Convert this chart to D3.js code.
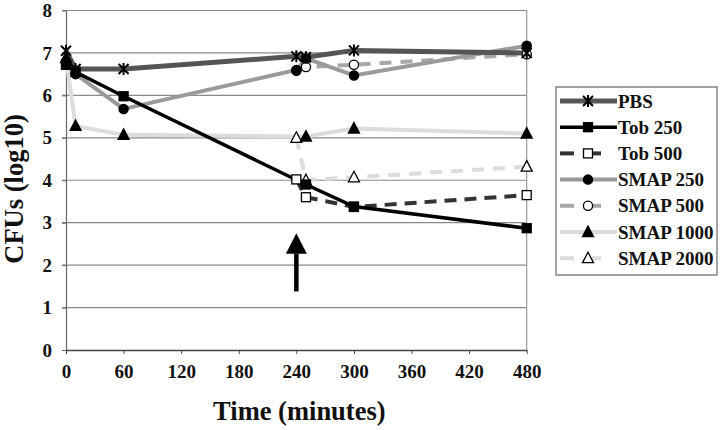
<!DOCTYPE html>
<html><head><meta charset="utf-8">
<script src="https://cdn.jsdelivr.net/npm/d3@7"></script>
<style>body{margin:0;background:#fff}svg{display:block}text{font-family:"Liberation Serif","Times New Roman",serif;font-weight:bold}</style>
</head><body><svg id="c" width="724" height="430"></svg>
<script>
const xTicks=[0,60,120,180,240,300,360,420,480];
const yTicks=[0,1,2,3,4,5,6,7,8];
const seriesNames=["PBS","Tob 250","Tob 500","SMAP 250","SMAP 500","SMAP 1000","SMAP 2000"];
const pbsT=[0,10,60,240,250,300,480];
const pbsV=[7.05,6.62,6.62,6.92,6.9,7.06,7.0];
const tob250T=[0,10,60,250,300,480];
const tob250V=[6.72,6.55,5.98,3.9,3.38,2.87];
const tob500T=[240,250,300,480];
const tob500V=[4.02,3.6,3.37,3.65];
const smap250T=[0,10,60,240,250,300,480];
const smap250V=[6.8,6.5,5.68,6.6,6.87,6.47,7.17];
const smap500T=[240,250,300,480];
const smap500V=[6.58,6.67,6.72,6.97];
const smap1000T=[0,10,60,250,300,480];
const smap1000V=[6.88,5.28,5.07,5.03,5.22,5.1];
const smap2000T=[240,250,300,480];
const smap2000V=[5.0,4.0,4.07,4.32];
const arrowT=240, arrowTip=2.75, arrowBase=2.27, arrowBottom=1.38;

const svg=d3.select("#c");
const x=d3.scaleLinear().domain([0,480]).range([66,526.7]);
const y=d3.scaleLinear().domain([0,8]).range([350,10.5]);

svg.append("g").selectAll("line").data(yTicks.filter(d=>d>0)).join("line")
 .attr("x1",62).attr("x2",x(480)).attr("y1",d=>y(d)).attr("y2",d=>y(d))
 .attr("stroke","#8a8a8a").attr("stroke-width",1.2);
svg.append("line").attr("x1",x(480)).attr("x2",x(480)).attr("y1",y(8)).attr("y2",y(0)).attr("stroke","#9a9a9a").attr("stroke-width",1.2);

const xa=svg.append("g").attr("transform",`translate(0,${y(0)})`)
 .call(d3.axisBottom(x).tickValues(xTicks).tickSize(4).tickSizeOuter(0));
xa.select(".domain").attr("stroke","#444").attr("stroke-width",1.5);
xa.selectAll(".tick line").attr("stroke","#444");
xa.selectAll("text").attr("font-size",19).attr("fill","#111").attr("dy","1.1em");
const ya=svg.append("g").attr("transform",`translate(${x(0)},0)`)
 .call(d3.axisLeft(y).tickValues(yTicks).tickSize(4).tickSizeOuter(0));
ya.select(".domain").attr("stroke","#666").attr("stroke-width",1.2);
ya.selectAll(".tick line").attr("stroke","#666");
ya.selectAll("text").attr("font-size",19).attr("fill","#111").attr("x",-14);

const styles={
 "PBS":{c:"#555",w:5,dash:null,m:"star"},
 "Tob 250":{c:"#000",w:3.5,dash:null,m:"fsq"},
 "Tob 500":{c:"#333",w:4,dash:"12,8",m:"osq"},
 "SMAP 250":{c:"#9a9a9a",w:4,dash:null,m:"fci"},
 "SMAP 500":{c:"#a8a8a8",w:4,dash:"12,9",m:"oci"},
 "SMAP 1000":{c:"#dcdcdc",w:4,dash:null,m:"ftr"},
 "SMAP 2000":{c:"#dcdcdc",w:4,dash:"12,9",m:"otr"}
};
const data=[[pbsT,pbsV],[tob250T,tob250V],[tob500T,tob500V],[smap250T,smap250V],[smap500T,smap500V],[smap1000T,smap1000V],[smap2000T,smap2000V]];
const series=seriesNames.map((n,i)=>({name:n,pts:data[i][0].map((t,j)=>({t,v:data[i][1][j]}))}));
const line=d3.line().x(d=>x(d.t)).y(d=>y(d.v));

function marker(g,type,cx,cy){
 if(type==="star"){g.append("path").attr("d",`M${cx-5},${cy-5}L${cx+5},${cy+5}M${cx-5},${cy+5}L${cx+5},${cy-5}M${cx},${cy-6}L${cx},${cy+6}`).attr("stroke","#000").attr("stroke-width",2).attr("fill","none");}
 else if(type==="fsq"||type==="osq"){g.append("rect").attr("x",cx-4.5).attr("y",cy-4.5).attr("width",9).attr("height",9).attr("fill",type==="fsq"?"#000":"#fff").attr("stroke","#000").attr("stroke-width",1.3);}
 else if(type==="fci"||type==="oci"){g.append("circle").attr("cx",cx).attr("cy",cy).attr("r",4.6).attr("fill",type==="fci"?"#000":"#fff").attr("stroke","#000").attr("stroke-width",1.3);}
 else {g.append("path").attr("d",`M${cx},${cy-6}L${cx+5.5},${cy+4.5}L${cx-5.5},${cy+4.5}Z`).attr("fill",type==="ftr"?"#000":"#fff").attr("stroke","#000").attr("stroke-width",1.3);}
}
const order=[6,5,4,3,2,1,0];
order.forEach(i=>{const s=series[i],st=styles[s.name];
 svg.append("path").datum(s.pts).attr("d",line).attr("fill","none").attr("stroke",st.c).attr("stroke-width",st.w).attr("stroke-dasharray",st.dash);
});
order.forEach(i=>{const s=series[i],st=styles[s.name];const g=svg.append("g");
 s.pts.forEach(p=>marker(g,st.m,x(p.t),y(p.v)));
});

const ax=x(arrowT);
svg.append("line").attr("x1",ax).attr("x2",ax).attr("y1",y(arrowBottom)).attr("y2",y(arrowBase)).attr("stroke","#000").attr("stroke-width",4.5);
svg.append("path").attr("d",`M${ax},${y(arrowTip)}L${ax+10.5},${y(arrowBase)}L${ax-10.5},${y(arrowBase)}Z`).attr("fill","#000");

svg.append("text").attr("x",x(240)+3).attr("y",420).attr("text-anchor","middle").attr("font-size",26.5).attr("fill","#111").text("Time (minutes)");
svg.append("text").attr("transform","translate(23,189) rotate(-90)").attr("text-anchor","middle").attr("font-size",26.5).attr("fill","#111").text("CFUs (log10)");

const lg=svg.append("g");
lg.append("rect").attr("x",556).attr("y",87).attr("width",161).attr("height",188).attr("fill","#fff").attr("stroke","#666").attr("stroke-width",1.2);
seriesNames.forEach((n,i)=>{const st=styles[n];const ly=101+i*26.2;
 if(st.dash){
  lg.append("line").attr("x1",560).attr("x2",574).attr("y1",ly).attr("y2",ly).attr("stroke",st.c).attr("stroke-width",st.w);
  lg.append("line").attr("x1",592).attr("x2",601).attr("y1",ly).attr("y2",ly).attr("stroke",st.c).attr("stroke-width",st.w);
 } else {
  lg.append("line").attr("x1",560).attr("x2",617).attr("y1",ly).attr("y2",ly).attr("stroke",st.c).attr("stroke-width",st.w);
 }
 marker(lg,st.m,588,ly);
 lg.append("text").attr("x",618).attr("y",ly+6.5).attr("font-size",19).attr("fill","#111").text(n);
});
</script></body></html>
